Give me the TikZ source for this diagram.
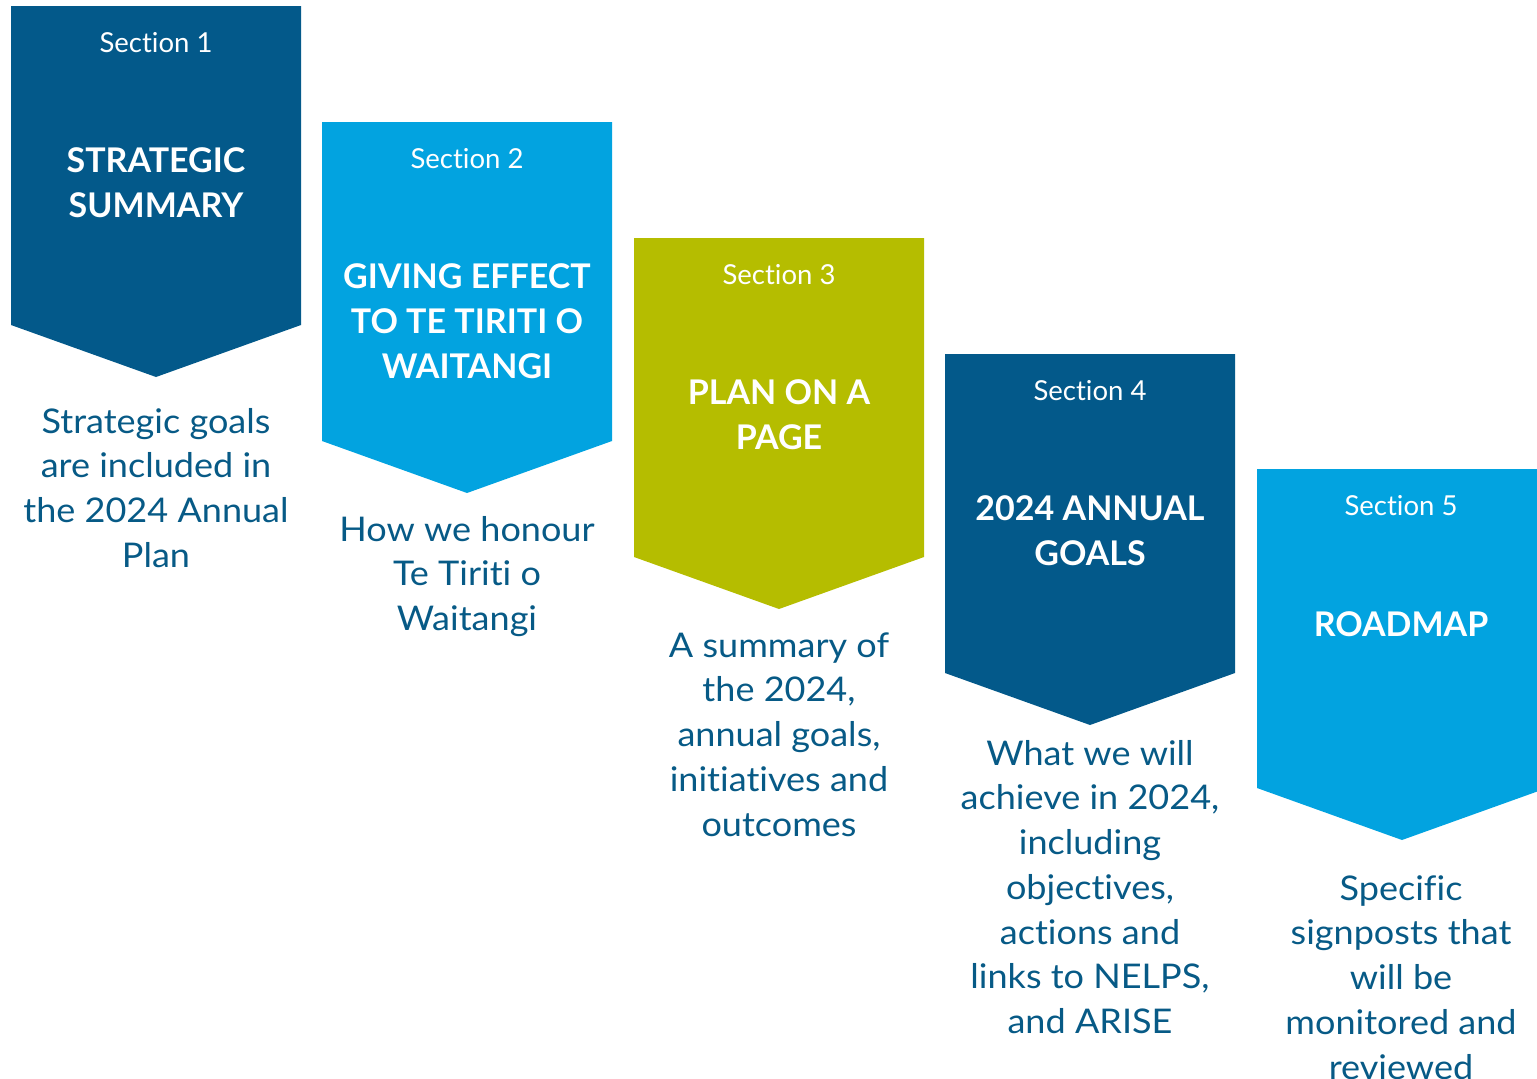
\documentclass[tikz,border=0pt]{standalone}
\usepackage{fontspec}
\setmainfont{Lato}[Ligatures=NoCommon]
\newfontfamily\descfont{Lato}[Ligatures=NoCommon,FakeStretch=1.06]
\definecolor{navy}{HTML}{03598A}
\definecolor{sky}{HTML}{02A3E0}
\definecolor{olive}{HTML}{B5BD00}
\definecolor{ink}{HTML}{075A86}
\newcommand{\ls}{\rule{0pt}{26pt}}
\begin{document}
\begin{tikzpicture}[x=1pt,y=-1pt,
  sectionlbl/.style={text=white,font=\fontsize{27.5}{33}\selectfont,anchor=base,inner sep=0pt},
  titlelbl/.style={text=white,font=\bfseries\fontsize{34}{45}\selectfont,align=center,anchor=north,inner sep=0pt},
  desclbl/.style={text=ink,font=\descfont\fontsize{34}{44.7}\selectfont,align=center,anchor=north,inner sep=0pt}]
\useasboundingbox (0,0) rectangle (1537,1079);
\begin{scope}
\clip (0,0) rectangle (1537,1079);
% chevron panels: 290 wide, body 319 high, point 52 lower
\foreach \i/\c/\x/\y in {1/navy/11/6, 2/sky/322/122, 3/olive/634/238, 4/navy/945/354, 5/sky/1257/469}{
  \fill[\c] (\x,\y) -- ++(290,0) -- ++(0,319) -- ++(-145,52) -- ++(-145,-52) -- cycle;
}
\end{scope}
% section numbers
\node[sectionlbl] (s1) at (156,52) {Section 1};
\node[sectionlbl] (s2) at (467,168) {Section 2};
\node[sectionlbl] (s3) at (779,284) {Section 3};
\node[sectionlbl] (s4) at (1090,400) {Section 4};
\node[sectionlbl] (s5) at (1401,515) {Section 5};
% section titles
\node[titlelbl] (t1) at (156,146) {\ls STRATEGIC\\SUMMARY};
\node[titlelbl] (t2) at (467,262) {\ls GIVING EFFECT\\TO TE TIRITI O\\WAITANGI};
\node[titlelbl] (t3) at (779,378) {\ls PLAN ON A\\PAGE};
\node[titlelbl] (t4) at (1090,494) {\ls 2024 ANNUAL\\GOALS};
\node[titlelbl] (t5) at (1401,610) {\ls ROADMAP};
% descriptions
\node[desclbl] (d1) at (156,407) {\ls Strategic goals\\are included in\\the 2024 Annual\\Plan};
\node[desclbl] (d2) at (467,515) {\ls How we honour\\Te Tiriti o\\Waitangi};
\node[desclbl] (d3) at (779,631) {\ls A summary of\\the 2024,\\annual goals,\\initiatives and\\outcomes};
\node[desclbl] (d4) at (1090,739) {\ls What we will\\achieve in 2024,\\including\\objectives,\\actions and\\links to NELPS,\\and ARISE};
\node[desclbl] (d5) at (1401,874) {\ls Specific\\signposts that\\will be\\monitored and\\reviewed};
\end{tikzpicture}
\end{document}
